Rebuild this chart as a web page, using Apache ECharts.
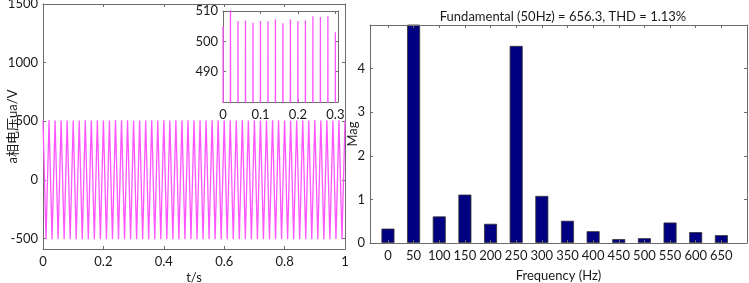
<!DOCTYPE html>
<html lang="en">
<head>
    <meta charset="UTF-8" />
    <title>a相电压波形与FFT</title>
    <script src="https://cdn.jsdelivr.net/npm/echarts@6/dist/echarts.min.js"></script>
</head>
<body style="margin:0;background:#fff">
    <div id="main" style="width: 749px; height: 283px"></div>
    <script>
        // 波形: 每个周期(20ms)的正峰值和负峰值
        var period = 0.02
        var peaks = [505, 510.5, 506.7, 506.9, 506.1, 506.7, 506.6, 507.3, 506, 507.3,
            506.7, 506.9, 508.3, 508, 508.3, 503, 507.1, 506.4, 507.8, 506.2,
            507.5, 506.9, 508, 506.5, 507.2, 506.8, 507.6, 506.3, 507.9, 506.7,
            507, 508.1, 506.4, 507.3, 506.6, 507.7, 506.9, 506.2, 507.4, 508,
            506.8, 507.1, 506.5, 507.6, 506.9, 507.3, 506.1, 507.8, 506.7, 507.2, 505]
        var troughs = [-506, -507, -505.5, -506.8, -506.2, -507.1, -505.9, -506.6, -507.3, -506,
            -506.9, -505.8, -507.2, -506.4, -506.7, -507.5, -506.1, -506.8, -505.7, -507,
            -506.5, -507.4, -506.2, -506.9, -505.9, -507.1, -506.6, -506.3, -507.6, -506.8,
            -506, -507.2, -506.4, -505.8, -507, -506.7, -506.2, -507.3, -506.5, -506.9,
            -505.9, -507.1, -506.6, -506.3, -507.4, -506.8, -506.1, -507, -506.5, -506.2]

        // FFT 谐波 (Mag, % of fundamental)
        var freqs = [0, 50, 100, 150, 200, 250, 300, 350, 400, 450, 500, 550, 600, 650]
        var mags = [0.33, 100, 0.61, 1.11, 0.44, 4.52, 1.08, 0.51, 0.27, 0.09, 0.11, 0.47, 0.25, 0.18]

        var titleText = 'Fundamental (50Hz) = 656.3, THD = 1.13%'
        var waveTicksY = [-500, 0, 500, 1000, 1500]
        var waveTicksX = [0, 0.2, 0.4, 0.6, 0.8, 1]
        var insetTicksY = [490, 500, 510]
        var insetTicksX = [0, 0.1, 0.2, 0.3]
        var magTicks = [0, 1, 2, 3, 4]

        var wave = []
        for (var i = 0; i < peaks.length; i++) {
            wave.push([i * period, peaks[i]])
            if (i < troughs.length) {
                wave.push([i * period + period / 2, troughs[i]])
            }
        }
        var bars = freqs.map(function (f, i) { return [f, mags[i]] })

        var font = 'Lato, "Noto Sans CJK SC", sans-serif'
        var lineColor = '#6b6b6b'
        var textColor = '#1a1a1a'
        var plain = function (v) { return String(v) }   // 不要千位分隔符
        var nameStyle = { fontFamily: font, fontSize: 13, color: textColor }

        function xAx(grid, min, max, ticks, pos, showLabel, extra) {
            var a = {
                type: 'value', gridIndex: grid, min: min, max: max, position: pos,
                nameMoveOverlap: false,
                axisLine: { show: true, onZero: false, lineStyle: { color: lineColor, width: 1 } },
                axisTick: { show: true, inside: true, length: 3, customValues: ticks, lineStyle: { color: lineColor } },
                axisLabel: { show: showLabel, customValues: ticks, formatter: plain, margin: 6, color: textColor, fontFamily: font, fontSize: 13 },
                splitLine: { show: false }
            }
            return Object.assign(a, extra || {})
        }
        function yAx(grid, min, max, ticks, pos, showLabel, extra) {
            var a = {
                type: 'value', gridIndex: grid, min: min, max: max, position: pos,
                nameMoveOverlap: false,
                axisLine: { show: true, onZero: false, lineStyle: { color: lineColor, width: 1 } },
                axisTick: { show: true, inside: true, length: 3, customValues: ticks, lineStyle: { color: lineColor } },
                axisLabel: { show: showLabel, customValues: ticks, formatter: plain, margin: 5, color: textColor, fontFamily: font, fontSize: 13 },
                splitLine: { show: false }
            }
            return Object.assign(a, extra || {})
        }

        var mCharts = echarts.init(document.getElementById('main'))
        var option = {
            backgroundColor: '#fff',
            animation: false,
            title: {
                text: titleText, left: 558, top: 5, textAlign: 'center',
                textStyle: { fontFamily: font, fontSize: 13, fontWeight: 'normal', color: textColor }
            },
            grid: [
                { left: 43, top: 4, width: 302, height: 245, outerBoundsMode: 'none', containLabel: false },
                { left: 223, top: 11, width: 115, height: 91, outerBoundsMode: 'none', containLabel: false,
                  show: true, backgroundColor: '#fff', borderWidth: 0, z: 10 },
                { left: 370, top: 25, width: 377, height: 218, outerBoundsMode: 'none', containLabel: false }
            ],
            xAxis: [
                xAx(0, 0, 1, waveTicksX, 'bottom', true, {
                    name: 't/s', nameLocation: 'middle', nameGap: 22, nameTextStyle: nameStyle
                }),
                xAx(0, 0, 1, waveTicksX, 'top', false),
                xAx(1, 0, 0.307, insetTicksX, 'bottom', true, { z: 11 }),
                xAx(1, 0, 0.307, insetTicksX, 'top', false, { z: 11 }),
                xAx(2, -35, 700, freqs, 'bottom', true, {
                    z: 5, name: 'Frequency (Hz)', nameLocation: 'middle', nameGap: 26, nameTextStyle: nameStyle
                }),
                xAx(2, -35, 700, freqs, 'top', false, { z: 5 })
            ],
            yAxis: [
                yAx(0, -590, 1500, waveTicksY, 'left', true, {
                    name: 'a相电压ua/V', nameLocation: 'middle', nameGap: 24, nameTextStyle: nameStyle
                }),
                yAx(0, -590, 1500, waveTicksY, 'right', false),
                yAx(1, 480, 510, insetTicksY, 'left', true, { z: 11 }),
                yAx(1, 480, 510, insetTicksY, 'right', false, { z: 11 }),
                yAx(2, 0, 5, magTicks, 'left', true, {
                    z: 5, name: 'Mag', nameLocation: 'middle', nameGap: 11, nameTextStyle: nameStyle
                }),
                yAx(2, 0, 5, magTicks, 'right', false, { z: 5 })
            ],
            series: [
                {
                    type: 'line', xAxisIndex: 0, yAxisIndex: 0, data: wave,
                    showSymbol: false, lineStyle: { color: '#ff55ff', width: 1.3 }, z: 2
                },
                {
                    type: 'line', xAxisIndex: 2, yAxisIndex: 2, data: wave, clip: true,
                    showSymbol: false, lineStyle: { color: '#ff55ff', width: 1.3 }, z: 12
                },
                {
                    type: 'bar', xAxisIndex: 4, yAxisIndex: 4, data: bars, barWidth: 13, clip: true,
                    itemStyle: { color: '#000080', borderColor: '#333', borderWidth: 0.8 }
                }
            ]
        }
        mCharts.setOption(option)
    </script>
</body>
</html>
